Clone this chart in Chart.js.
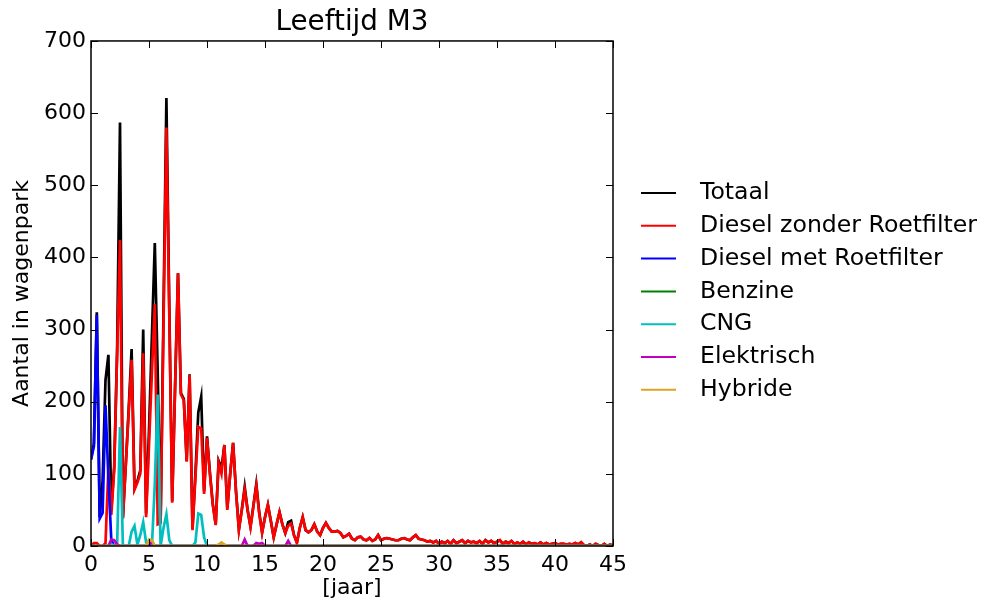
<!DOCTYPE html>
<html>
<head>
<meta charset="utf-8">
<title>Leeftijd M3</title>
<script src="https://cdn.jsdelivr.net/npm/chart.js@4.4.0/dist/chart.umd.min.js"></script>
<style>
  html, body { margin: 0; padding: 0; background: #fff; }
</style>
</head>
<body>
<canvas id="ageChart" width="989" height="603"></canvas>
<script>
// leeftijd in jaren, per kwartaal (0 .. 45)
const step = 0.25;

const totaal = [
  120, 142, 324, 40,   90, 230, 265, 50,   110, 270, 587, 40,   113, 190, 273, 80,   90, 105, 300, 45,
  160, 290, 420, 240,  32, 325, 621, 330,  62, 222, 378, 212,   204, 118, 238, 24,   100, 185, 207, 76,
  152, 102, 58, 30,    118, 108, 140, 52,  100, 143, 76, 23,    50, 82, 50, 27,      56, 86, 47, 19,
  40, 57, 35, 12,      30, 47, 30, 18,     33, 35, 15, 5,       25, 40, 22, 19,      22, 30, 20, 15,
  25, 32, 25, 20,      20, 21, 18, 12,     14, 17, 10, 8,       12, 13, 9, 8,        11, 7, 9, 15,
  8, 10, 11, 10,       9, 8, 8, 10,        11, 9, 8, 12,        15, 10, 9, 8,        6, 7, 5, 7,
  3, 6, 4, 7,          3, 8, 4, 6,         8, 4, 7, 5,          6, 4, 7, 3,          8, 5, 7, 4,
  6, 8, 3, 6,          4, 7, 3, 5,         3, 6, 2, 5,          3, 4, 2, 5,          2, 4, 2, 3,
  4, 2, 3, 3,          2, 3, 2, 4,         2, 5, 1, 0,          2, 0, 3, 1,          0, 3, 0, 2,
  1
];

const dieselZonder = [
  0, 4, 4, 0,          0, 4, 108, 43,      105, 265, 424, 38,   113, 185, 258, 78,   88, 100, 267, 40,
  140, 240, 335, 30,   32, 305, 580, 320,  60, 220, 378, 210,   202, 117, 237, 22,   95, 165, 163, 72,
  150, 100, 57, 29,    115, 100, 140, 50,  100, 143, 75, 22,    50, 78, 50, 26,      55, 84, 45, 18,
  40, 57, 35, 12,      30, 47, 30, 18,     28, 31, 15, 4,       25, 40, 22, 19,      22, 30, 20, 15,
  25, 32, 25, 20,      20, 21, 18, 12,     14, 17, 10, 8,       12, 13, 9, 8,        11, 7, 9, 15,
  8, 10, 11, 10,       9, 8, 8, 10,        11, 9, 8, 12,        15, 10, 9, 8,        6, 7, 5, 7,
  3, 6, 4, 7,          3, 8, 4, 6,         8, 4, 7, 5,          6, 4, 7, 3,          8, 5, 7, 4,
  6, 8, 3, 6,          4, 7, 3, 5,         3, 6, 2, 5,          3, 4, 2, 5,          2, 4, 2, 3,
  4, 2, 3, 3,          2, 3, 2, 4,         2, 5, 1, 0,          2, 0, 3, 1,          0, 3, 0, 2,
  1
];

const dieselMet = [
  120, 138, 320, 38,  46, 195, 95, 8,  0, 0, 0, 0,  0, 0, 0, 0,  0, 0, 0, 0,
  0, 0, 0, 0, 0, 0, 0, 0, 0, 0, 0, 0, 0, 0, 0, 0, 0, 0, 0, 0,
  0, 0, 0, 0, 0, 0, 0, 0, 0, 0, 0, 0, 0, 0, 0, 0, 0, 0, 0, 0,
  0, 0, 0, 0, 0, 0, 0, 0, 0, 0, 0, 0, 0, 0, 0, 0, 0, 0, 0, 0,
  0, 0, 0, 0, 0, 0, 0, 0, 0, 0, 0, 0, 0, 0, 0, 0, 0, 0, 0, 0,
  0, 0, 0, 0, 0, 0, 0, 0, 0, 0, 0, 0, 0, 0, 0, 0, 0, 0, 0, 0,
  0, 0, 0, 0, 0, 0, 0, 0, 0, 0, 0, 0, 0, 0, 0, 0, 0, 0, 0, 0,
  0, 0, 0, 0, 0, 0, 0, 0, 0, 0, 0, 0, 0, 0, 0, 0, 0, 0, 0, 0,
  0, 0, 0, 0, 0, 0, 0, 0, 0, 0, 0, 0, 0, 0, 0, 0, 0, 0, 0, 0,
  0
];

const benzine = [
  0, 0, 0, 0, 0, 0, 0, 0, 0, 0, 0, 0, 0, 0, 0, 0, 0, 0, 0, 0,
  0, 2, 0, 0, 0, 0, 0, 0, 0, 0, 0, 0, 0, 0, 0, 0, 0, 0, 0, 0,
  0, 0, 0, 0, 0, 0, 0, 0, 0, 0, 0, 0, 0, 0, 0, 0, 0, 0, 0, 0,
  0, 0, 0, 0, 0, 0, 0, 0, 0, 0, 0, 0, 0, 0, 0, 0, 0, 0, 0, 0,
  0, 0, 0, 0, 0, 0, 0, 0, 0, 0, 0, 0, 0, 0, 0, 0, 0, 0, 0, 0,
  0, 0, 0, 0, 0, 0, 0, 0, 0, 0, 0, 0, 0, 0, 0, 0, 0, 0, 0, 0,
  0, 0, 0, 0, 0, 0, 0, 0, 0, 0, 0, 0, 0, 0, 0, 0, 0, 0, 0, 0,
  0, 0, 0, 0, 0, 0, 0, 0, 0, 0, 0, 0, 0, 0, 0, 0, 0, 0, 0, 0,
  0, 0, 0, 0, 0, 0, 0, 0, 0, 0, 0, 0, 0, 0, 0, 0, 0, 0, 0, 0,
  0
];

const cng = [
  0, 0, 0, 0,   0, 0, 0, 3,    0, 0, 165, 0,  0, 0, 20, 28,  2, 15, 33, 5,
  0, 0, 85, 210, 0, 25, 44, 8,  0, 0, 0, 0,    0, 0, 0, 0,   5, 45, 43, 12,
  0, 0, 0, 0, 0, 0, 0, 0, 0, 0, 0, 0, 0, 0, 0, 0, 0, 0, 0, 0,
  0, 0, 0, 0, 0, 0, 0, 0, 0, 0, 0, 0, 0, 0, 0, 0, 0, 0, 0, 0,
  0, 0, 0, 0, 0, 0, 0, 0, 0, 0, 0, 0, 0, 0, 0, 0, 0, 0, 0, 0,
  0, 0, 0, 0, 0, 0, 0, 0, 0, 0, 0, 0, 0, 0, 0, 0, 0, 0, 0, 0,
  0, 0, 0, 0, 0, 0, 0, 0, 0, 0, 0, 0, 0, 0, 0, 0, 0, 0, 0, 0,
  0, 0, 0, 0, 0, 0, 0, 0, 0, 0, 0, 0, 0, 0, 0, 0, 0, 0, 0, 0,
  0, 0, 0, 0, 0, 0, 0, 0, 0, 0, 0, 0, 0, 0, 0, 0, 0, 0, 0, 0,
  0
];

const elektrisch = [
  0, 0, 0, 0,  0, 0, 0, 9,  8, 2, 0, 0,  0, 0, 0, 0,  0, 0, 0, 0,
  0, 6, 0, 0,  0, 0, 0, 0,  0, 0, 0, 0,  0, 0, 0, 0,  0, 0, 0, 0,
  0, 0, 0, 0,  0, 0, 0, 0,  0, 0, 0, 0,  0, 9, 0, 0,  0, 4, 3, 4,
  0, 0, 0, 0,  0, 0, 0, 0,  7, 0, 0, 0,  0, 0, 0, 0,  0, 0, 0, 0,
  0, 0, 0, 0, 0, 0, 0, 0, 0, 0, 0, 0, 0, 0, 0, 0, 0, 0, 0, 0,
  0, 0, 0, 0, 0, 0, 0, 0, 0, 0, 0, 0, 0, 0, 0, 0, 0, 0, 0, 0,
  0, 0, 0, 0, 0, 0, 0, 0, 0, 0, 0, 0, 0, 0, 0, 0, 0, 0, 0, 0,
  0, 0, 0, 0, 0, 0, 0, 0, 0, 0, 0, 0, 0, 0, 0, 0, 0, 0, 0, 0,
  0, 0, 0, 0, 0, 0, 0, 0, 0, 0, 0, 0, 0, 0, 0, 0, 0, 0, 0, 0,
  0
];

const hybride = [
  0, 0, 0, 0, 0, 0, 0, 0, 0, 0, 0, 0, 0, 0, 0, 0, 0, 0, 0, 0,
  9, 8, 0, 0,  0, 0, 0, 0,  0, 0, 0, 0,  0, 0, 0, 0,  0, 0, 0, 0,
  0, 0, 0, 0,  2, 5, 2, 0,  0, 0, 0, 0,  0, 0, 0, 0,  0, 0, 0, 0,
  0, 0, 0, 0, 0, 0, 0, 0, 0, 0, 0, 0, 0, 0, 0, 0, 0, 0, 0, 0,
  0, 0, 0, 0, 0, 0, 0, 0, 0, 0, 0, 0, 0, 0, 0, 0, 0, 0, 0, 0,
  0, 0, 0, 0, 0, 0, 0, 0, 0, 0, 0, 0, 0, 0, 0, 0, 0, 0, 0, 0,
  0, 0, 0, 0, 0, 0, 0, 0, 0, 0, 0, 0, 0, 0, 0, 0, 0, 0, 0, 0,
  0, 0, 0, 0, 0, 0, 0, 0, 0, 0, 0, 0, 0, 0, 0, 0, 0, 0, 0, 0,
  0, 0, 0, 0, 0, 0, 0, 0, 0, 0, 0, 0, 0, 0, 0, 0, 0, 0, 0, 0,
  0
];

const seriesNames = ['Totaal', 'Diesel zonder Roetfilter', 'Diesel met Roetfilter', 'Benzine', 'CNG', 'Elektrisch', 'Hybride'];
const seriesData = [totaal, dieselZonder, dieselMet, benzine, cng, elektrisch, hybride];
const seriesColors = ['#000000', '#ff0000', '#0000ff', '#008000', '#00bfbf', '#bf00bf', '#daa520'];

const xTicks = [0, 5, 10, 15, 20, 25, 30, 35, 40, 45];
const yTicks = [0, 100, 200, 300, 400, 500, 600, 700];

const FONT = 'DejaVu Sans';
Chart.defaults.font.family = FONT;
Chart.defaults.color = '#000';

// kader met naar binnen wijzende streepjes + legenda rechts
const frameAndLegend = {
  id: 'frameAndLegend',
  afterDatasetsDraw(chart) {
    const { ctx, chartArea: a, scales } = chart;
    ctx.save();
    ctx.strokeStyle = '#000';
    ctx.lineWidth = 1;
    ctx.beginPath();
    xTicks.forEach(v => {
      const px = Math.round(scales.x.getPixelForValue(v)) + 0.5;
      ctx.moveTo(px, a.bottom); ctx.lineTo(px, a.bottom - 7);
      ctx.moveTo(px, a.top); ctx.lineTo(px, a.top + 7);
    });
    yTicks.forEach(v => {
      const py = Math.round(scales.y.getPixelForValue(v)) + 0.5;
      ctx.moveTo(a.left, py); ctx.lineTo(a.left + 7, py);
      ctx.moveTo(a.right, py); ctx.lineTo(a.right - 7, py);
    });
    ctx.stroke();
    ctx.lineWidth = 1.5;
    ctx.strokeRect(a.left, a.top, a.right - a.left, a.bottom - a.top);

    // legenda
    ctx.font = '23.6px "' + FONT + '"';
    ctx.textBaseline = 'middle';
    ctx.textAlign = 'left';
    chart.data.datasets.forEach((ds, i) => {
      const yy = 193 + i * 32.8;
      ctx.strokeStyle = ds.borderColor;
      ctx.lineWidth = 2;
      ctx.beginPath();
      ctx.moveTo(641, yy); ctx.lineTo(676, yy);
      ctx.stroke();
      ctx.fillStyle = '#000';
      ctx.fillText(ds.label, 700, yy);
    });
    ctx.restore();
  }
};

const datasets = seriesNames.map((name, i) => ({
  label: name,
  data: seriesData[i].map((v, k) => ({ x: k * step, y: v })),
  borderColor: seriesColors[i],
  backgroundColor: seriesColors[i],
  borderWidth: 2.7,
  pointRadius: 0,
  tension: 0,
  fill: false,
  order: seriesNames.length - i
}));

new Chart(document.getElementById('ageChart'), {
  type: 'line',
  data: { datasets: datasets },
  options: {
    responsive: false,
    animation: false,
    layout: { padding: { left: 0, right: 376, top: 0, bottom: 0 } },
    plugins: {
      legend: { display: false },
      tooltip: { enabled: false },
      title: {
        display: true,
        text: 'Leeftijd M3',
        fullSize: false,
        color: '#000',
        font: { family: FONT, size: 27.8, weight: 'normal' },
        padding: { top: 6.3, bottom: 1.3 }
      }
    },
    scales: {
      x: {
        type: 'linear',
        min: 0,
        max: 45,
        grid: { display: false, drawTicks: false },
        border: { display: false },
        ticks: { stepSize: 5, autoSkip: false, maxRotation: 0, padding: 6, color: '#000', font: { family: FONT, size: 22 } },
        title: { display: true, text: '[jaar]', color: '#000', font: { family: FONT, size: 22 }, padding: { top: 0, bottom: 1.2 } },
        afterFit: s => { s.height = 57; }
      },
      y: {
        min: 0,
        max: 700,
        grid: { display: false, drawTicks: false },
        border: { display: false },
        ticks: { stepSize: 100, padding: 5, color: '#000', font: { family: FONT, size: 22 } },
        title: { display: true, text: 'Aantal in wagenpark', color: '#000', font: { family: FONT, size: 22 }, padding: { top: 8.8, bottom: 0 } },
        afterFit: s => { s.width = 91; }
      }
    }
  },
  plugins: [frameAndLegend]
});
</script>
</body>
</html>
